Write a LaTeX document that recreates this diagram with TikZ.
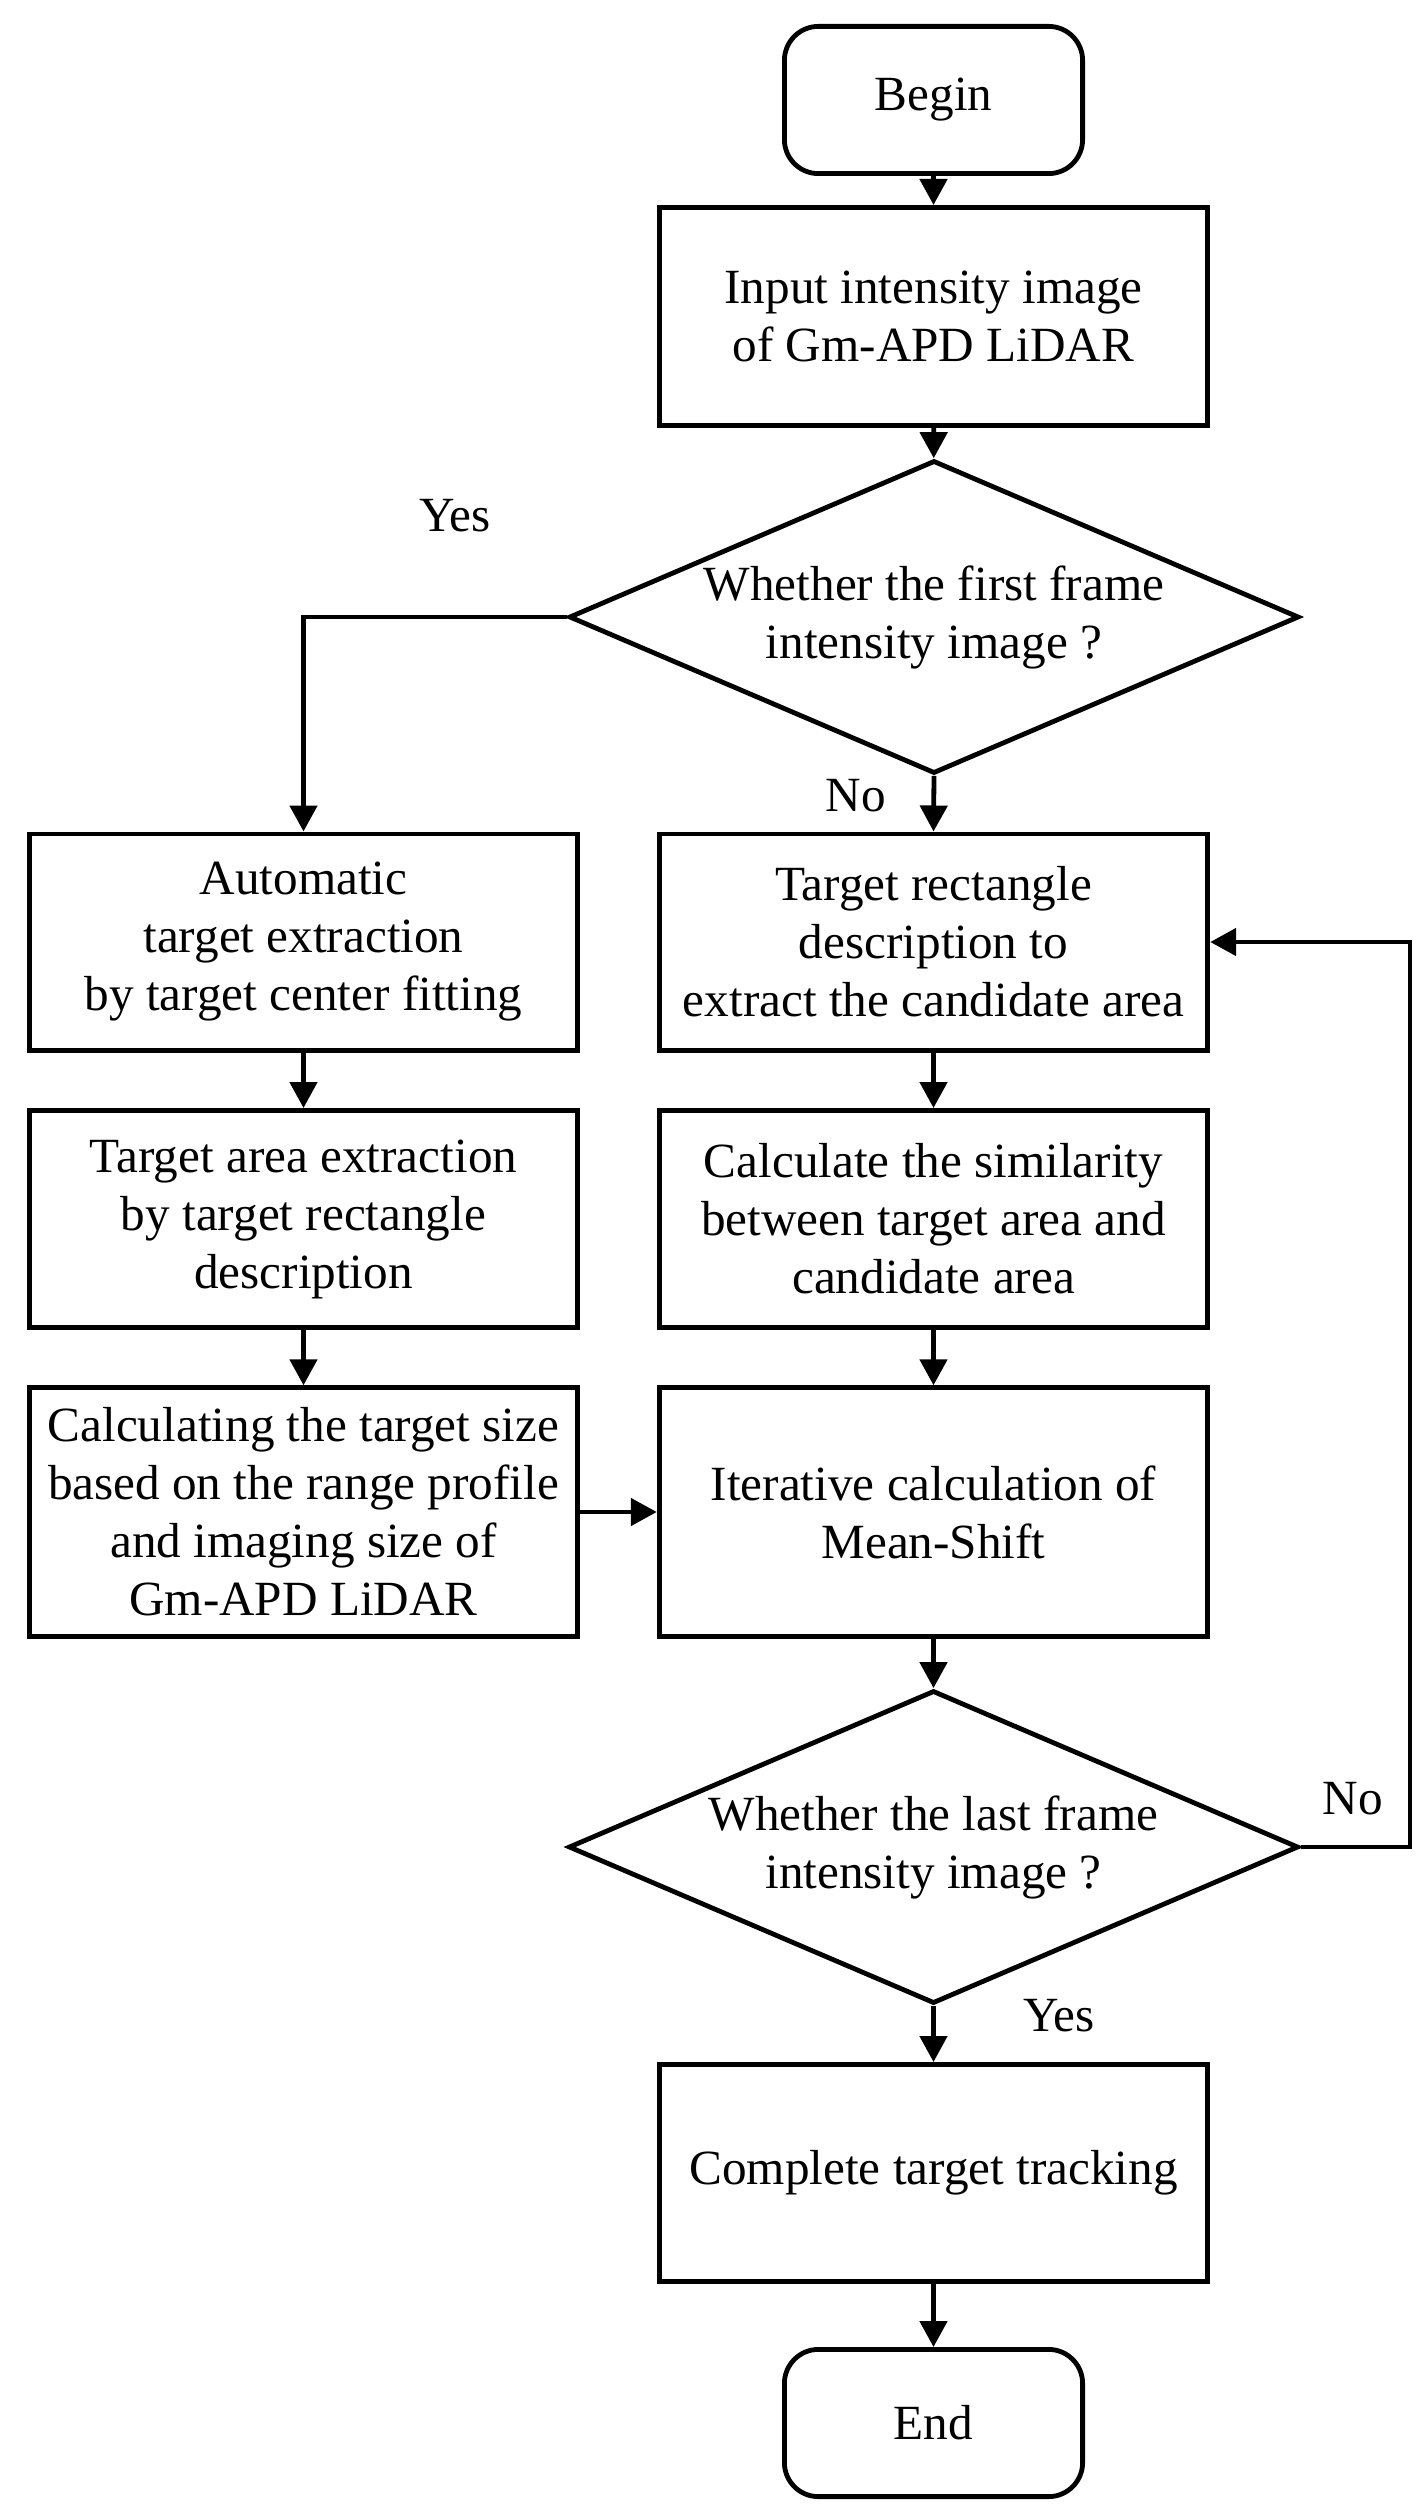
\documentclass[tikz,border=0pt]{standalone}
\usepackage{fontspec}
\setmainfont{Liberation Serif}
\usetikzlibrary{shapes.geometric,arrows.meta}
\begin{document}
\begin{tikzpicture}[x=0.5pt,y=-0.5pt,
  font=\fontsize{24.6}{29}\selectfont,
  every node/.style={inner sep=0pt, align=center},
  procbox/.style={draw, line width=2.4pt, rectangle, minimum width=274.3pt, minimum height=#1},
  termbox/.style={draw, line width=2.4pt, rectangle, rounded corners=17pt, minimum width=149.1pt, minimum height=73.6pt},
  decbox/.style={draw, line width=2.4pt, diamond, aspect=2.3, minimum width=365pt, minimum height=156.5pt},
  arr/.style={line width=2.4pt, -{Triangle[length=13pt,width=13.5pt]}},
  lbl/.style={inner sep=0pt}
]
\useasboundingbox (0,0) rectangle (1415,2520);

\node[termbox] (begin) at (933.5,100) {Begin};
\node[procbox=109.1pt] (input) at (933.5,316.5) {Input intensity image\\of Gm-APD LiDAR};
\node[decbox] (d1) at (934,617) {Whether the first frame\\intensity image ?};

\node[procbox=108.1pt] (A) at (303.5,942) {Automatic\\target extraction\\by target center fitting};
\node[procbox=108.6pt] (B) at (303.5,1219) {Target area extraction\\by target rectangle\\description};
\node[procbox=124.3pt] (C) at (303.5,1512) {Calculating the target size\\based on the range profile\\and imaging size of\\Gm-APD LiDAR};

\node[procbox=108.1pt] (R1) at (933.5,942) {Target rectangle\\description to\\extract the candidate area};
\node[procbox=108.6pt] (R2) at (933.5,1219) {Calculate the similarity\\between target area and\\candidate area};
\node[procbox=124.3pt] (R3) at (933.5,1512) {Iterative calculation of\\Mean-Shift};

\node[decbox] (d2) at (933.5,1847) {Whether the last frame\\intensity image ?};
\node[procbox=108.6pt] (done) at (933.5,2173) {Complete target tracking};
\node[termbox] (end) at (933.5,2423) {End};

\node[lbl] (yes1) at (455,516) {Yes};
\node[lbl] (no1) at (856,796) {No};
\node[lbl] (no2) at (1353,1799) {No};
\node[lbl] (yes2) at (1059,2016) {Yes};

\coordinate (fb) at (1410,1847);

\draw[arr] (begin) -- (input);
\draw[arr] (input) -- (d1);
\draw[arr] (d1.west) -| (A.north);
\draw[arr] (d1.south) -- (R1.north);
\draw[arr] (A) -- (B);
\draw[arr] (B) -- (C);
\draw[arr] (R1) -- (R2);
\draw[arr] (R2) -- (R3);
\draw[arr] (C) -- (R3);
\draw[arr] (R3) -- (d2.north);
\draw[arr] (d2.south) -- (done);
\draw[arr] (done) -- (end);
\draw[arr] (d2.east) -- (fb) |- (R1.east);
\end{tikzpicture}
\end{document}
